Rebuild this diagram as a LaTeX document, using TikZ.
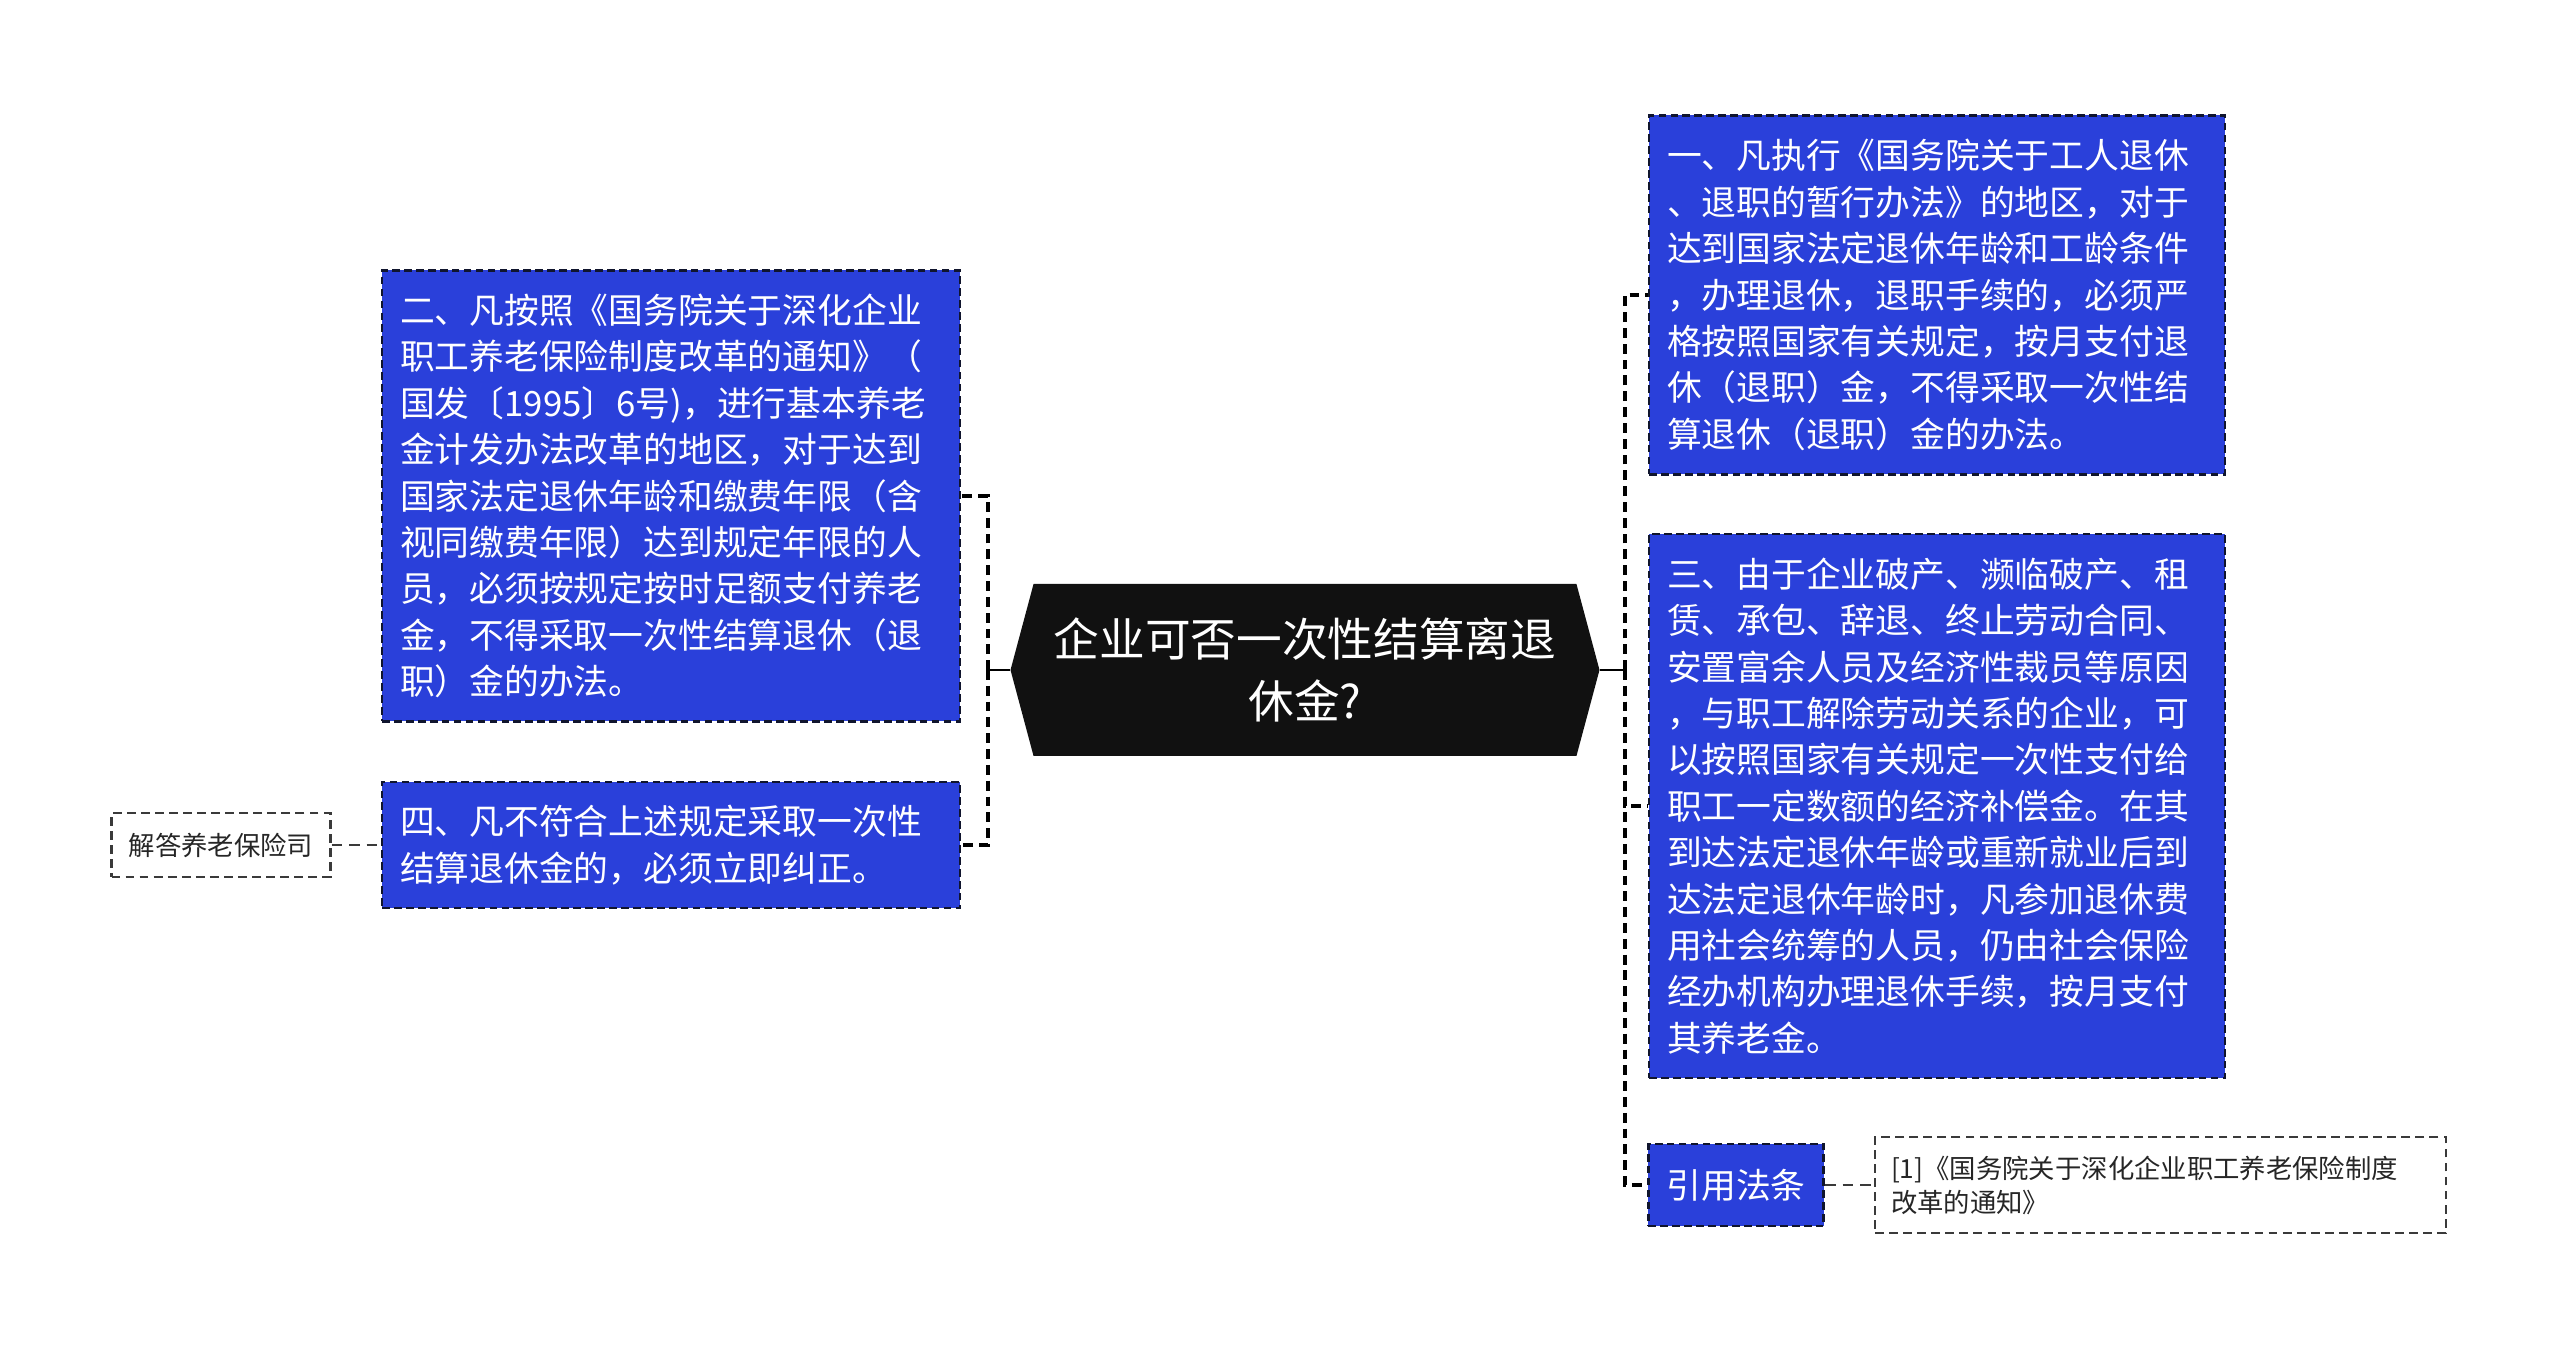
\documentclass[tikz,border=0pt]{standalone}
\usepackage{fontspec}
\setmainfont{Noto Sans CJK SC}
\usetikzlibrary{positioning,shapes.symbols}
\definecolor{boxblue}{HTML}{2A40DA}
\definecolor{boxline}{HTML}{10152E}
\definecolor{rootblack}{HTML}{111111}
\definecolor{notegray}{HTML}{3A3A3A}
\tikzset{
    topic/.style = {
        signal,
        signal to=west and east,
        signal pointer angle=150,
        fill = rootblack,
        text = white,
        align = center,
        font = \fontsize{13pt}{17.6pt}\selectfont,
        minimum width = 58.9mm,
        minimum height = 17.2mm,
        },
    point/.style = {
        draw = boxline,
        line width = 0.8pt,
        dash pattern = on 2.2pt off 1.2pt,
        fill = boxblue,
        text = white,
        align = left,
        font = \fontsize{9.9pt}{13.2pt}\selectfont,
        inner xsep = 1.8mm,
        inner ysep = 0pt,
        },
    note/.style = {
        draw = notegray,
        line width = 0.6pt,
        dash pattern = on 2.5pt off 1.5pt,
        fill = white,
        text = black!85,
        align = left,
        font = \fontsize{7.5pt}{9.7pt}\selectfont,
        inner xsep = 1.6mm,
        inner ysep = 0pt,
        },
    stem/.style = {
        draw = black,
        line width = 0.8pt,
        },
    link/.style = {
        draw = black,
        dash pattern = on 2.8pt off 1.7pt,
        line width = 1.1pt,
        },
    note link/.style = {
        draw = notegray,
        dash pattern = on 3pt off 2pt,
        line width = 0.7pt,
        },
}
\begin{document}
\begin{tikzpicture}[x=0.1mm, y=-0.1mm]
    \useasboundingbox (0,0) rectangle (2560,1351);

    \node[topic] (root) at (1305,670) {企业可否一次性结算离退\\休金?};

    \node[point, text width=54mm, minimum height=35.9mm] (rule1) at (1937,295) {一、凡执行《国务院关于工人退休\\、退职的暂行办法》的地区，对于\\达到国家法定退休年龄和工龄条件\\，办理退休，退职手续的，必须严\\格按照国家有关规定，按月支付退\\休（退职）金，不得采取一次性结\\算退休（退职）金的办法。};
    \node[point, text width=54mm, minimum height=54.4mm] (rule3) at (1937,806) {三、由于企业破产、濒临破产、租\\赁、承包、辞退、终止劳动合同、\\安置富余人员及经济性裁员等原因\\，与职工解除劳动关系的企业，可\\以按照国家有关规定一次性支付给\\职工一定数额的经济补偿金。在其\\到达法定退休年龄或重新就业后到\\达法定退休年龄时，凡参加退休费\\用社会统筹的人员，仍由社会保险\\经办机构办理退休手续，按月支付\\其养老金。};
    \node[point, minimum width=17.5mm, minimum height=8.2mm, align=center] (cite) at (1736,1185) {引用法条};
    \node[note, text width=53.9mm, minimum height=9.6mm, right=4.9mm of cite] (law) {[1]《国务院关于深化企业职工养老保险制度\\改革的通知》};

    \node[point, text width=54.2mm, minimum height=45.1mm] (rule2) at (671,496) {二、凡按照《国务院关于深化企业\\职工养老保险制度改革的通知》（\\国发〔1995〕6号)，进行基本养老\\金计发办法改革的地区，对于达到\\国家法定退休年龄和缴费年限（含\\视同缴费年限）达到规定年限的人\\员，必须按规定按时足额支付养老\\金，不得采取一次性结算退休（退\\职）金的办法。};
    \node[point, text width=54.2mm, minimum height=12.6mm] (rule4) at (671,845) {四、凡不符合上述规定采取一次性\\结算退休金的，必须立即纠正。};
    \node[note, minimum width=21.9mm, minimum height=6.4mm, align=center, left=4.9mm of rule4] (source) {解答养老保险司};

    % spines
    \coordinate (lspine) at (988,670);
    \coordinate (rspine) at (1625,670);

    \draw[stem] (root.west) -- (lspine);
    \draw[link] (lspine) |- (rule2.east);
    \draw[link] (lspine) |- (rule4.east);
    \draw[note link] (source.east) -- (rule4.west);

    \draw[stem] (root.east) -- (rspine);
    \draw[link] (rspine) |- (rule1.west);
    \draw[link] (rspine) |- (rule3.west);
    \draw[link] (rspine) |- (cite.west);
    \draw[note link] (cite.east) -- (law.west);
\end{tikzpicture}
\end{document}
